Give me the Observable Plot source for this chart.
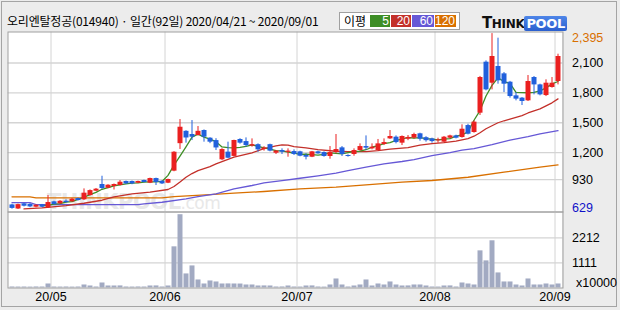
<!DOCTYPE html>
<html><head><meta charset="utf-8">
<script src="https://cdn.jsdelivr.net/npm/d3@7"></script>
<script src="https://cdn.jsdelivr.net/npm/@observablehq/plot@0.6"></script>
<style>
html,body{margin:0;padding:0;}
body{width:620px;height:310px;background:#ececec;position:relative;overflow:hidden;font-family:"Liberation Sans",sans-serif;}
#frame{position:absolute;left:1px;top:1px;width:616px;height:306px;border:1px solid #a4a4a4;box-sizing:border-box;}
#panel{position:absolute;left:8px;top:32px;width:554px;height:256px;background:#fff;}
#wm{position:absolute;left:47px;top:190px;font:bold 21px "DejaVu Sans";color:#e8e8e8;letter-spacing:-0.5px;white-space:nowrap;}
#wm span{font-weight:normal;font-size:17px;}
#title{position:absolute;left:7px;top:12px;font:12px "Noto Sans CJK KR";color:#000;white-space:nowrap;letter-spacing:-0.2px;}
#legend{position:absolute;left:339px;top:12px;width:121px;height:18px;background:#fff;border:1px solid #a0a0a0;box-sizing:border-box;}
#legend .lab{position:absolute;left:4px;top:0px;font:12px "Noto Sans CJK KR";line-height:16px;}
#legend .b{position:absolute;top:2px;height:12px;color:#fff;font:12px "Liberation Sans";line-height:12px;text-align:right;padding-right:1px;box-sizing:border-box;}
#logo{position:absolute;left:482px;top:13px;white-space:nowrap;font-family:"DejaVu Sans";font-weight:bold;}
#logo .t{font-size:15px;color:#111;letter-spacing:-0.5px;}
#logo .h{font-size:12px;color:#111;letter-spacing:-0.3px;}
#logo .p{font-size:13px;color:#fff;background:linear-gradient(#4f86e8,#2a5fcf);padding:0 2px;border-radius:2px;letter-spacing:-0.3px;}
svg{position:absolute;left:0;top:0;}
</style></head>
<body>
<div id="frame"></div>
<div id="panel"></div>
<div id="wm">THINKPOOL<span>.com</span></div>
<div id="title">오리엔탈정공(014940) · 일간(92일) 2020/04/21 ~ 2020/09/01</div>
<div id="legend"><span class="lab">이평</span></div>
<div id="logo"><span class="t">T</span><span class="h">HINK</span><span class="p">POOL</span></div>
<script>
const dates = ["2020-04-21","2020-04-22","2020-04-23","2020-04-24","2020-04-27","2020-04-28","2020-04-29",
"2020-05-04","2020-05-06","2020-05-07","2020-05-08","2020-05-11","2020-05-12","2020-05-13","2020-05-14","2020-05-15","2020-05-18","2020-05-19","2020-05-20","2020-05-21","2020-05-22","2020-05-25","2020-05-26","2020-05-27","2020-05-28","2020-05-29",
"2020-06-01","2020-06-02","2020-06-03","2020-06-04","2020-06-05","2020-06-08","2020-06-09","2020-06-10","2020-06-11","2020-06-12","2020-06-15","2020-06-16","2020-06-17","2020-06-18","2020-06-19","2020-06-22","2020-06-23","2020-06-24","2020-06-25","2020-06-26","2020-06-29","2020-06-30",
"2020-07-01","2020-07-02","2020-07-03","2020-07-06","2020-07-07","2020-07-08","2020-07-09","2020-07-10","2020-07-13","2020-07-14","2020-07-15","2020-07-16","2020-07-17","2020-07-20","2020-07-21","2020-07-22","2020-07-23","2020-07-24","2020-07-27","2020-07-28","2020-07-29","2020-07-30","2020-07-31",
"2020-08-03","2020-08-04","2020-08-05","2020-08-06","2020-08-07","2020-08-10","2020-08-11","2020-08-12","2020-08-13","2020-08-14","2020-08-18","2020-08-19","2020-08-20","2020-08-21","2020-08-24","2020-08-25","2020-08-26","2020-08-27","2020-08-28","2020-08-31",
"2020-09-01"];

const opens = [675,634,686,680,652,676,645,706,686,712,706,739,726,769,813,880,843,860,870,910,910,893,920,893,940,913,893,1014,1290,1414,1382,1372,1422,1345,1321,1128,1205,1162,1332,1311,1265,1280,1231,1280,1194,1221,1203,1211,1208,1171,1154,1208,1201,1161,1201,1248,1171,1181,1221,1261,1238,1221,1281,1338,1355,1295,1335,1345,1389,1350,1338,1318,1305,1345,1368,1352,1472,1402,1596,2108,1897,2065,1991,1907,1770,1747,1720,1954,1880,1773,1854,1914];
const highs = [682,683,690,688,676,680,769,712,718,726,740,745,836,826,840,963,878,885,920,915,915,914,924,944,944,918,934,1210,1532,1420,1522,1462,1428,1350,1340,1240,1305,1325,1340,1348,1338,1288,1260,1285,1220,1238,1238,1228,1214,1188,1212,1214,1208,1261,1382,1261,1178,1238,1288,1368,1288,1332,1338,1422,1368,1368,1372,1395,1395,1360,1345,1345,1362,1375,1375,1479,1485,1519,1965,2121,2395,2349,2004,1915,1803,1753,1974,1964,1887,1931,1954,2188];
const lows = [632,629,655,648,646,646,640,674,682,694,702,714,720,764,808,830,838,825,866,880,878,889,896,889,870,880,889,1008,1232,1295,1321,1366,1305,1290,1221,1120,1140,1158,1285,1255,1255,1204,1215,1208,1181,1181,1154,1171,1158,1127,1150,1184,1154,1134,1188,1161,1154,1164,1214,1221,1228,1214,1271,1332,1288,1271,1320,1335,1315,1305,1295,1295,1298,1335,1338,1345,1378,1395,1573,1820,1830,1887,1803,1747,1720,1673,1713,1780,1770,1763,1847,1880];
const closes = [640,678,662,655,672,652,699,679,712,699,732,719,793,819,833,840,873,880,903,886,886,910,900,940,900,886,930,1204,1455,1347,1355,1414,1355,1305,1247,1231,1144,1322,1295,1271,1280,1228,1246,1215,1216,1204,1215,1181,1164,1154,1208,1188,1161,1201,1231,1181,1161,1221,1261,1245,1255,1288,1301,1362,1301,1362,1352,1382,1335,1320,1311,1328,1355,1368,1345,1435,1385,1506,1954,1830,2165,1921,1887,1763,1737,1713,1914,1880,1780,1897,1897,2165];
const volumes = [45,42,44,40,46,44,177,44,42,45,40,44,133,89,44,221,89,89,92,44,42,46,44,89,92,44,89,1814,3230,620,973,354,177,310,266,177,180,177,175,133,133,89,92,89,44,46,89,44,42,89,92,44,40,133,398,133,44,89,133,354,89,177,133,266,133,89,92,133,133,89,44,42,89,92,44,221,177,133,1637,1195,2080,664,266,266,133,89,398,133,133,177,133,177];

// moving averages (day index, value)
const ma5Day = [5,6,7,8,9,10,11,12,13,14,15,16,17,18,19,20,21,22,23,24,25,26,27,28,29,30,31,32,33,34,35,36,37,38,39,40,41,42,43,44,45,46,47,48,49,50,51,52,53,54,55,56,57,58,59,60,61,62,63,64,65,66,67,68,69,70,71,72,73,74,75,76,77,78,79,80,81,82,83,84,85,86,87,88,89,90,91];
const ma5 = [668,671,683,688,704,708,731,752,779,801,832,849,866,876,886,893,897,904,907,907,911,972,1075,1165,1258,1355,1385,1355,1335,1310,1257,1250,1248,1252,1262,1279,1263,1247,1236,1221,1218,1205,1195,1183,1184,1179,1175,1182,1198,1192,1187,1199,1211,1214,1229,1254,1270,1290,1301,1323,1336,1352,1346,1350,1340,1335,1329,1336,1341,1366,1378,1408,1525,1622,1768,1875,1951,1913,1895,1804,1803,1801,1805,1820,1850,1890,1914];
const ma20Day = [2,5,9,12,15,17,20,23,26,27,28,29,30,31,33,34,35,37,40,42,44,45,46,47,49,51,54,56,59,61,63,66,68,70,72,74,76,77,78,79,80,81,82,83,84,85,86,87,88,89,90,91];
const ma20 = [635,645,669,692,722,755,786,803,830,860,905,953,990,1020,1060,1087,1110,1154,1198,1240,1268,1278,1275,1261,1248,1230,1214,1211,1211,1221,1236,1250,1275,1290,1300,1315,1340,1365,1400,1440,1470,1500,1520,1537,1555,1572,1598,1620,1640,1670,1700,1740];
const ma60Day = [0,3,4,21,22,25,29,31,34,37,40,42,45,48,51,54,56,59,62,65,67,70,73,75,77,80,83,86,88,91];
const ma60 = [699,699,679,679,686,702,736,759,786,836,870,896,920,943,967,994,1020,1054,1087,1111,1130,1171,1200,1225,1240,1280,1325,1360,1388,1420];
const ma120Day = [0,3,4,25,27,33,37,42,48,54,59,65,70,76,82,88,91];
const ma120 = [756,756,746,746,759,779,793,810,836,853,876,903,920,953,1004,1054,1077];

const priceTicks = [930,1200,1500,1800,2100];
const volTicks = [1111,2212];
const volUnit = "x10000";
const maNames = ["5","20","60","120"];
const maColors = ["#3e8e26","#c3302a","#6658d6","#d97000"];

const days = dates.map((d,i)=>({i,d,o:opens[i],h:highs[i],l:lows[i],c:closes[i],v:volumes[i]}));
const monthStarts = days.filter((o,k)=>k>0 && o.d.slice(5,7)!==days[k-1].d.slice(5,7))
  .map(o=>({pos:o.i-0.5,label:o.d.slice(2,4)+"/"+o.d.slice(5,7)}));
const up = d=>d.c>=d.o;
const cUp="#ea2020", cDn="#2160dc";
const mk = (dayArr,valArr)=>dayArr.map((x,k)=>({x,y:valArr[k]}));
const comma = d3.format(",");

// legend boxes
const lg=document.getElementById("legend");
const boxX=[30,51,72,95], boxW=[20,20,22,21];
maNames.forEach((n,k)=>{const b=document.createElement("span");b.className="b";b.style.left=boxX[k]+"px";b.style.width=boxW[k]+"px";b.style.background=maColors[k];b.textContent=n;lg.appendChild(b);});

const xDom=[-0.6667,91.8333];
const maxH=d3.max(highs), minL=d3.min(lows);
const price = Plot.plot({
  width:620,height:213,marginLeft:7.5,marginRight:57.5,marginTop:31.5,marginBottom:1.5,
  x:{domain:xDom,axis:null},
  y:{domain:[604,2411],axis:null,label:null},
  style:{background:"transparent",fontFamily:"Liberation Sans",fontSize:"12.5px",color:"#000",overflow:"visible"},
  marks:[
    Plot.gridY(priceTicks,{stroke:"#d4d4d4",strokeOpacity:1,strokeWidth:1.3}),
    Plot.ruleX(monthStarts,{x:"pos",stroke:"#d4d4d4",strokeWidth:1}),
    Plot.line(mk(ma120Day,ma120),{x:"x",y:"y",stroke:maColors[3],strokeWidth:1.3}),
    Plot.line(mk(ma60Day,ma60),{x:"x",y:"y",stroke:maColors[2],strokeWidth:1.3}),
    Plot.line(mk(ma20Day,ma20),{x:"x",y:"y",stroke:maColors[1],strokeWidth:1.3}),
    Plot.line(mk(ma5Day,ma5),{x:"x",y:"y",stroke:maColors[0],strokeWidth:1.3}),
    Plot.ruleX(days,{x:"i",y1:"l",y2:"h",stroke:d=>up(d)?cUp:cDn,strokeWidth:1}),
    Plot.ruleX(days,{x:"i",y1:"o",y2:"c",stroke:d=>up(d)?cUp:cDn,strokeWidth:5}),
    Plot.frame({stroke:"#a0a0a0"}),
    Plot.axisY(priceTicks,{anchor:"right",label:null,tickSize:0,tickPadding:9,tickFormat:comma,fontSize:12.5,fill:"#000"}),
    Plot.text([maxH],{y:d=>d,frameAnchor:"right",dx:9,dy:4,textAnchor:"start",text:d=>comma(d),fill:"#d97000",fontSize:12.5}),
    Plot.text([minL],{y:d=>d,frameAnchor:"right",dx:9,dy:-2,textAnchor:"start",text:d=>String(d),fill:"#1010c8",fontSize:12.5})
  ]
});
document.body.appendChild(price);

const vol = Plot.plot({
  width:620,height:310,marginLeft:7.5,marginRight:57.5,marginTop:211.5,marginBottom:22.5,
  x:{domain:xDom,axis:null},
  y:{domain:[0,3349],axis:null,label:null},
  style:{background:"transparent",fontFamily:"Liberation Sans",fontSize:"12.5px",color:"#000",overflow:"visible"},
  marks:[
    Plot.gridY(volTicks,{stroke:"#d4d4d4",strokeOpacity:1,strokeWidth:1.3}),
    Plot.ruleX(monthStarts,{x:"pos",stroke:"#d4d4d4",strokeWidth:1}),
    Plot.ruleX(days,{x:"i",y1:0,y2:"v",stroke:"#a2aac2",strokeWidth:5}),
    Plot.frame({stroke:"#a0a0a0"}),
    Plot.axisY(volTicks,{anchor:"right",label:null,tickSize:0,tickPadding:9,tickFormat:d=>String(d),fontSize:12.5,fill:"#000"}),
    Plot.text([volUnit],{frameAnchor:"bottom-right",dx:13,dy:-1,textAnchor:"start",text:d=>d,fill:"#000",fontSize:12.5}),
    Plot.text(monthStarts,{x:"pos",frameAnchor:"bottom",dy:13,text:"label",fill:"#000",fontSize:12.5})
  ]
});
document.body.appendChild(vol);
</script>
</body></html>
